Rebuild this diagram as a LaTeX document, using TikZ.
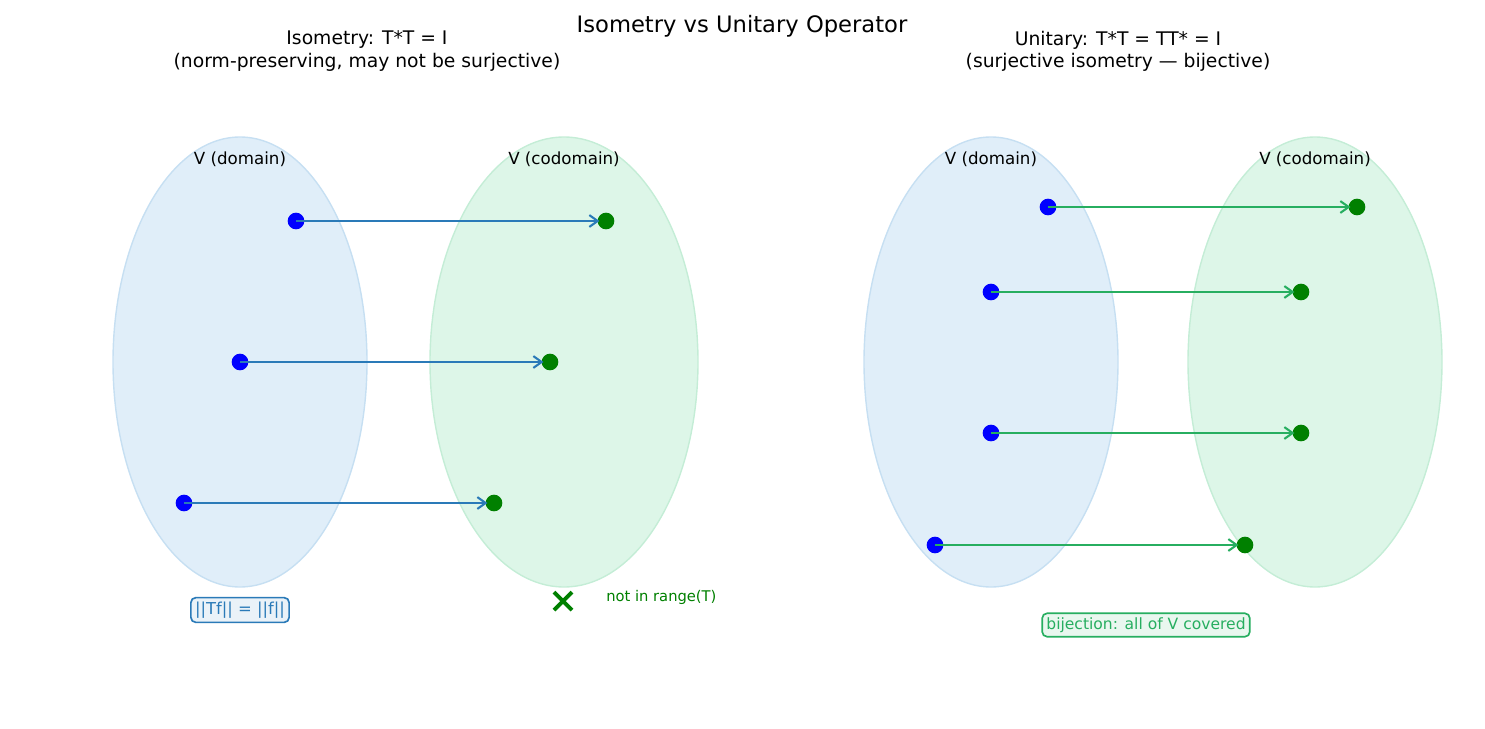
\documentclass[tikz,border=0pt]{standalone}
\usepackage{fontspec}
\setmainfont{DejaVu Sans}
\usepackage{xcolor}
\usetikzlibrary{arrows.meta, positioning, shapes.geometric}

\definecolor{domfill}{HTML}{E0EEF9}
\definecolor{domedge}{HTML}{C6DFF2}
\definecolor{codfill}{HTML}{DDF6E8}
\definecolor{codedge}{HTML}{C4EDD6}
\definecolor{isoblue}{HTML}{2A7AB8}
\definecolor{unigreen}{HTML}{27AE60}
\definecolor{ptgreen}{HTML}{008000}

\begin{document}
\begin{tikzpicture}[x=0.72pt, y=-0.72pt]
\tikzstyle{space} = [ellipse, fill=#1fill, draw=#1edge, line width=1pt, inner sep=0pt]
\tikzstyle{vlabel} = [font=\fontsize{12}{14}\selectfont]
\tikzstyle{src} = [circle, fill=blue, inner sep=0pt, minimum size=12pt]
\tikzstyle{dst} = [circle, fill=ptgreen, inner sep=0pt, minimum size=12pt]
\tikzstyle{map} = [line width=1.8pt, -{Straight Barb[length=6pt, width=8.5pt, line width=1.5pt]}, shorten >=-1.5pt]
\tikzstyle{note} = [rounded corners=3.5pt, line width=1.2pt, inner sep=3pt]
\tikzstyle{sub} = [align=center, font=\fontsize{13.5}{16}\selectfont]

\useasboundingbox (0,0) rectangle (1485,729);

% titles
\node (title) at (742,26) {\fontsize{16.3}{19}\selectfont Isometry vs Unitary Operator};
\node (isot) [sub] at (367,51) {Isometry: T*T = I\\(norm-preserving, may not be surjective)};
\node (unit) [sub] at (1118,51) {Unitary: T*T = TT* = I\\(surjective isometry — bijective)};

% isometry panel
\node (dom1) [space=dom, minimum width=254*0.72pt, minimum height=450*0.72pt] at (240,362) {};
\node (cod1) [space=cod, minimum width=268*0.72pt, minimum height=450*0.72pt] at (564,362) {};
\node [vlabel] at (240,159) {V (domain)};
\node [vlabel] at (564,159) {V (codomain)};

\node (a1) [src] at (296,221) {};
\node (a2) [src] at (240,362) {};
\node (a3) [src] at (184,503) {};
\node (b1) [dst] at (606,221) {};
\node (b2) [dst] at (550,362) {};
\node (b3) [dst] at (494,503) {};
\foreach \i in {1,2,3}
  \draw [map, isoblue] (a\i.center) -- (b\i);

\coordinate (miss) at (563,601);
\draw [ptgreen, line width=2.8pt] ([shift={(-9,-9)}]miss) -- ([shift={(9,9)}]miss)
  ([shift={(-9,9)}]miss) -- ([shift={(9,-9)}]miss);
\node (missl) [anchor=west, ptgreen, font=\fontsize{10.6}{12}\selectfont, inner sep=0pt] at (606,597) {not in range(T)};
\node (norm) [note, draw=isoblue, fill=isoblue!10, text=isoblue, font=\fontsize{11.8}{14}\selectfont] at (240,610) {||Tf|| = ||f||};

% unitary panel
\node (dom2) [space=dom, minimum width=254*0.72pt, minimum height=450*0.72pt] at (991,362) {};
\node (cod2) [space=cod, minimum width=254*0.72pt, minimum height=450*0.72pt] at (1315,362) {};
\node [vlabel] at (991,159) {V (domain)};
\node [vlabel] at (1315,159) {V (codomain)};

\node (c1) [src] at (1048,207) {};
\node (c2) [src] at (991,292) {};
\node (c3) [src] at (991,433) {};
\node (c4) [src] at (935,545) {};
\node (d1) [dst] at (1357,207) {};
\node (d2) [dst] at (1301,292) {};
\node (d3) [dst] at (1301,433) {};
\node (d4) [dst] at (1245,545) {};
\foreach \i in {1,...,4}
  \draw [map, unigreen] (c\i.center) -- (d\i);

\node (bij) [note, draw=unigreen, fill=unigreen!10, text=unigreen, font=\fontsize{11.2}{13}\selectfont] at (1146,625) {bijection: all of V covered};

\end{tikzpicture}
\end{document}
